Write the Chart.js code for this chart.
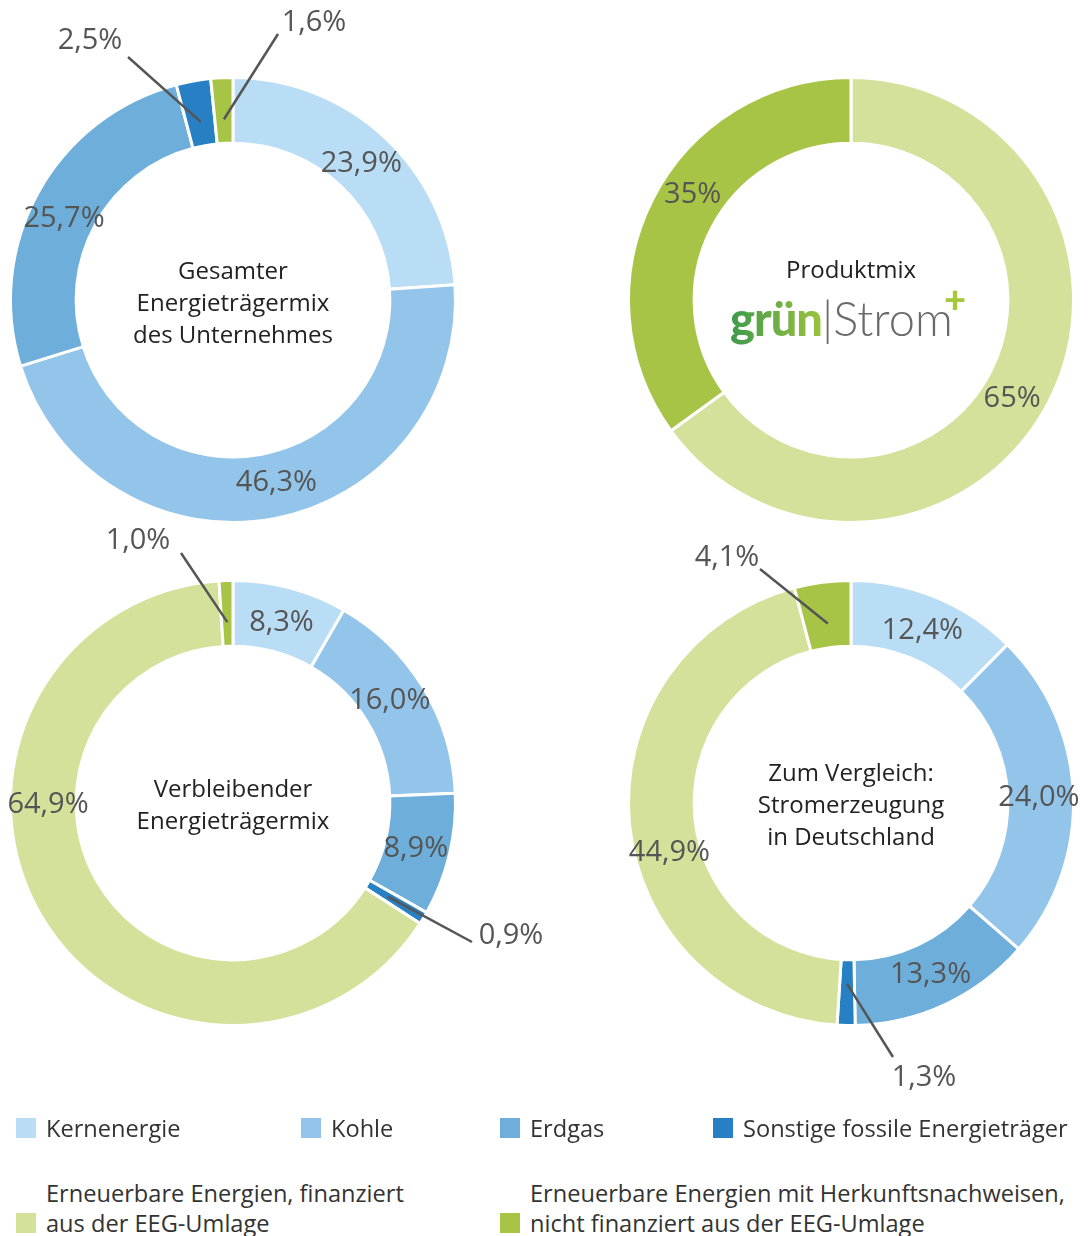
<!DOCTYPE html>
<html><head><meta charset="utf-8">
<script src="https://cdn.jsdelivr.net/npm/chart.js@4.4.0/dist/chart.umd.min.js"></script>
<style>
html,body{margin:0;padding:0;background:#fff;width:1089px;height:1236px;overflow:hidden;font-family:"Open Sans",sans-serif;}
.wrap{position:absolute;width:640px;height:640px;}
.center{position:absolute;width:320px;text-align:center;color:#222;font-size:24px;line-height:32px;}
.legend{position:absolute;color:#333;font-size:23.6px;line-height:30px;white-space:nowrap;}
.sw{position:absolute;width:20px;height:20px;}
.logo{position:absolute;left:730px;top:290px;white-space:nowrap;font-family:Lato,sans-serif;font-size:47px;line-height:56px;}
.logo .g{font-weight:900;background:linear-gradient(90deg,#3e9a4c,#9cc23e);-webkit-background-clip:text;background-clip:text;color:transparent;letter-spacing:-1px;}
.logo .s{font-weight:300;color:#6a6a6a;}
.logo .p{position:absolute;left:214px;top:-20px;font-weight:900;color:#a4c83a;font-size:38px;}
</style></head>
<body>
<div class="wrap" style="left:-87px;top:-20px"><canvas id="c1"></canvas></div>
<div class="wrap" style="left:531px;top:-20px"><canvas id="c2"></canvas></div>
<div class="wrap" style="left:-87px;top:483px"><canvas id="c3"></canvas></div>
<div class="wrap" style="left:531px;top:483px"><canvas id="c4"></canvas></div>

<div class="center" style="left:73px;top:254px">Gesamter<br>Energieträgermix<br>des Unternehmes</div>
<div class="center" style="left:691px;top:253px">Produktmix</div>
<div class="logo"><span class="g">grün</span><span class="s">|Strom</span><span class="p">+</span></div>
<div class="center" style="left:73px;top:772px">Verbleibender<br>Energieträgermix</div>
<div class="center" style="left:691px;top:756px">Zum Vergleich:<br>Stromerzeugung<br>in Deutschland</div>

<div id="legend"></div>

<script>
const categories = ['Kernenergie','Kohle','Erdgas','Sonstige fossile Energieträger','Erneuerbare Energien, finanziert aus der EEG-Umlage','Erneuerbare Energien mit Herkunftsnachweisen, nicht finanziert aus der EEG-Umlage'];
const legendLines = [['Kernenergie'],['Kohle'],['Erdgas'],['Sonstige fossile Energieträger'],['Erneuerbare Energien, finanziert','aus der EEG-Umlage'],['Erneuerbare Energien mit Herkunftsnachweisen,','nicht finanziert aus der EEG-Umlage']];
const colors = ['#b8ddf5','#93c5ea','#6eaedb','#2680c3','#d3e19a','#a8c447'];

const gesamtValues     = [23.9, 46.3, 25.7, 2.5, 0, 1.6];
const produktValues    = [0, 0, 0, 0, 65, 35];
const verbleibValues   = [8.3, 16.0, 8.9, 0.9, 64.9, 1.0];
const deutschlandValues= [12.4, 24.0, 13.3, 1.3, 44.9, 4.1];

const labelPlugin = {
  id:'sliceLabels',
  afterDatasetsDraw(chart, args, opts){
    const ctx = chart.ctx;
    const meta = chart.getDatasetMeta(0);
    const ds = chart.data.datasets[0];
    const ov = opts.overrides || {};
    ctx.save();
    ctx.font = '29px "Open Sans"';
    ctx.fillStyle = '#555';
    ctx.strokeStyle = '#555';
    ctx.lineWidth = 2.5;
    ctx.textAlign = 'center';
    ctx.textBaseline = 'middle';
    meta.data.forEach((arc, i) => {
      const v = ds.data[i];
      if (!v) return;
      const p = arc.getProps(['x','y','startAngle','endAngle','innerRadius','outerRadius'], true);
      const o = ov[i] || {};
      let a = (p.startAngle + p.endAngle) / 2;
      if (o.angle !== undefined) a = (o.angle - 90) * Math.PI / 180;
      const text = v.toFixed(opts.decimals).replace('.', ',') + '%';
      if (o.leader) {
        const r = o.r || 181;
        const sx = p.x + Math.cos(a) * r, sy = p.y + Math.sin(a) * r;
        const ex = p.x + o.ex, ey = p.y + o.ey;
        ctx.beginPath(); ctx.moveTo(sx, sy); ctx.lineTo(ex, ey); ctx.stroke();
        ctx.fillText(text, ex + o.tx, ey + o.ty + 1);
      } else {
        const r = o.r || 188;
        ctx.fillText(text, p.x + Math.cos(a) * r, p.y + Math.sin(a) * r + 1.5);
      }
    });
    ctx.restore();
  }
};

function makeChart(id, values, decimals, overrides){
  new Chart(document.getElementById(id), {
    type:'doughnut',
    data:{ labels:categories, datasets:[{ data:values, backgroundColor:colors, borderColor:'#fff', borderWidth:3, hoverOffset:0 }] },
    options:{
      responsive:true, maintainAspectRatio:false, animation:false,
      cutout:'70.5%',
      layout:{ padding:96 },
      plugins:{ legend:{display:false}, tooltip:{enabled:false}, sliceLabels:{ decimals, overrides } }
    },
    plugins:[labelPlugin]
  });
}

makeChart('c1', gesamtValues, 1, {
  1:{angle:166.5, r:186},
  2:{angle:296},
  3:{leader:true, ex:-105, ey:-243, tx:-38, ty:-17},
  5:{leader:true, ex:45, ey:-266, tx:36, ty:-12}
});
makeChart('c2', produktValues, 0, { 4:{angle:121}, 5:{angle:304, r:191} });
makeChart('c3', verbleibValues, 1, {
  1:{angle:56.5},
  3:{leader:true, ex:239, ey:139, tx:39, ty:-7},
  4:{angle:270, r:185},
  5:{leader:true, ex:-52, ey:-250, tx:-43, ty:-13}
});
makeChart('c4', deutschlandValues, 1, {
  3:{leader:true, ex:42, ey:254, tx:31, ty:20},
  4:{angle:255},
  5:{leader:true, ex:-91, ey:-234, tx:-33, ty:-12}
});

// HTML legend built from categories/colors
const legendPos = [[16,1118],[301,1118],[500,1118],[713,1118],[16,1213],[500,1213]];
const lg = document.getElementById('legend');
legendLines.forEach((lines, i) => {
  const [x, y] = legendPos[i];
  const sw = document.createElement('div');
  sw.className = 'sw'; sw.style.left = x + 'px'; sw.style.top = y + 'px'; sw.style.background = colors[i];
  lg.appendChild(sw);
  const t = document.createElement('div');
  t.className = 'legend';
  t.style.left = (x + 30) + 'px';
  t.style.top = (y + 10 - 15 - 30 * (lines.length - 1)) + 'px';
  t.innerHTML = lines.join('<br>');
  lg.appendChild(t);
});
</script>
</body></html>
